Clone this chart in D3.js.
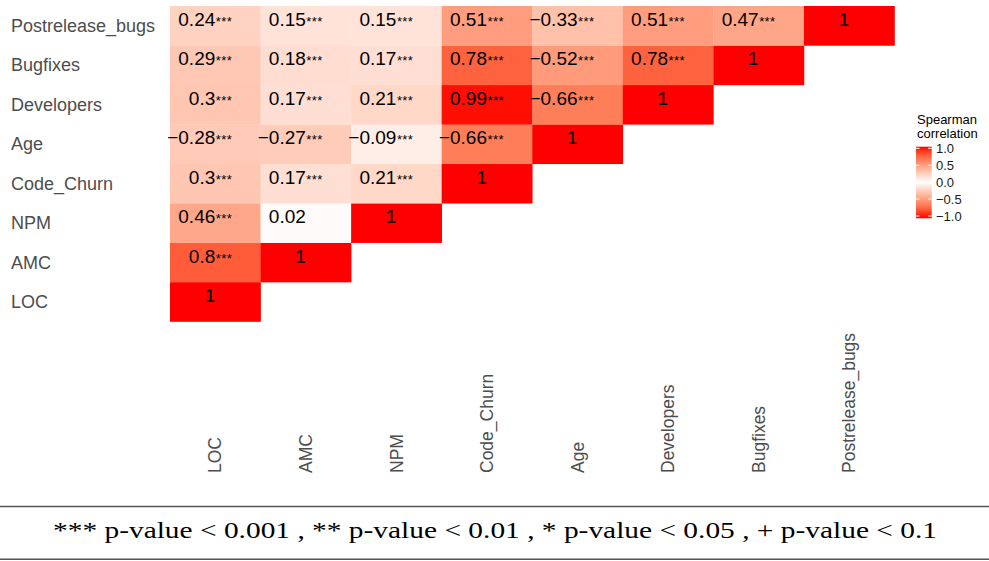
<!DOCTYPE html>
<html>
<head>
<meta charset="utf-8">
<script src="https://cdn.jsdelivr.net/npm/d3@7"></script>
<style>
  html, body { margin: 0; padding: 0; background: #fff; }
  svg { display: block; }
</style>
</head>
<body>
<svg id="chart" width="989" height="561"></svg>
<script>
// Metric names, left-to-right on the x axis (and bottom-to-top on the y axis)
const metrics = ["LOC", "AMC", "NPM", "Code_Churn", "Age", "Developers", "Bugfixes", "Postrelease_bugs"];

// Spearman coefficients, one row per metric (lower triangle incl. diagonal)
const corrLOC         = [1];
const corrAMC         = [0.8, 1];
const corrNPM         = [0.46, 0.02, 1];
const corrCodeChurn   = [0.3, 0.17, 0.21, 1];
const corrAge         = [-0.28, -0.27, -0.09, -0.66, 1];
const corrDevelopers  = [0.3, 0.17, 0.21, 0.99, -0.66, 1];
const corrBugfixes    = [0.29, 0.18, 0.17, 0.78, -0.52, 0.78, 1];
const corrPostrelease = [0.24, 0.15, 0.15, 0.51, -0.33, 0.51, 0.47, 1];

// Significance markers for each coefficient
const sigLOC         = [""];
const sigAMC         = ["***", ""];
const sigNPM         = ["***", "", ""];
const sigCodeChurn   = ["***", "***", "***", ""];
const sigAge         = ["***", "***", "***", "***", ""];
const sigDevelopers  = ["***", "***", "***", "***", "***", ""];
const sigBugfixes    = ["***", "***", "***", "***", "***", "***", ""];
const sigPostrelease = ["***", "***", "***", "***", "***", "***", "***", ""];

// Colour-bar breaks and their labels
const legendBreaks = [1, 0.5, 0, -0.5, -1];
const legendLabels = ["1.0", "0.5", "0.0", "\u22120.5", "\u22121.0"];
const legendTitle = ["Spearman", "correlation"];

const footnote = "*** p-value < 0.001 , ** p-value < 0.01 , * p-value < 0.05 , + p-value < 0.1";

const rowValues = [corrLOC, corrAMC, corrNPM, corrCodeChurn, corrAge, corrDevelopers, corrBugfixes, corrPostrelease];
const rowSig    = [sigLOC, sigAMC, sigNPM, sigCodeChurn, sigAge, sigDevelopers, sigBugfixes, sigPostrelease];

const cells = [];
rowValues.forEach((vals, i) => {
  vals.forEach((v, j) => {
    cells.push({ row: metrics[i], col: metrics[j], value: v, sig: rowSig[i][j] });
  });
});

const svg = d3.select("#chart");
const sans = "Liberation Sans, Arial, Helvetica, sans-serif";

const x = d3.scaleBand().domain(metrics).range([170, 894.5]).padding(0);
const y = d3.scaleBand().domain(metrics.slice().reverse()).range([6, 321.5]).padding(0);

const fill = d3.scaleLinear()
  .domain([-1, 0, 1])
  .range(["#ff0000", "#ffffff", "#ff0000"])
  .interpolate(d3.interpolateLab);

const fmt = v => (v < 0 ? "\u2212" : "") + String(Math.abs(v));

// Tiles
svg.append("g").selectAll("rect")
  .data(cells)
  .join("rect")
  .attr("x", d => x(d.col))
  .attr("y", d => y(d.row))
  .attr("width", x.bandwidth() + 0.3)
  .attr("height", y.bandwidth() + 0.3)
  .attr("fill", d => fill(d.value));

// Coefficient labels: value ends at the tile centre, stars follow it
const lbl = svg.append("g").selectAll("g")
  .data(cells)
  .join("g")
  .attr("transform", d => `translate(${x(d.col) + x.bandwidth() / 2},${y(d.row) + y.bandwidth() / 2 + 0.3})`);

lbl.append("text")
  .attr("text-anchor", "end")
  .attr("font-family", sans)
  .attr("font-size", 19)
  .attr("fill", "#000")
  .text(d => fmt(d.value));

lbl.filter(d => d.sig)
  .append("text")
  .attr("x", 0.5)
  .attr("text-anchor", "start")
  .attr("font-family", sans)
  .attr("font-size", 13)
  .attr("letter-spacing", 0.4)
  .attr("fill", "#000")
  .text(d => d.sig);

// Y axis
const yAxis = svg.append("g")
  .attr("transform", "translate(170,0)")
  .call(d3.axisLeft(y).tickSize(0));
yAxis.select(".domain").remove();
yAxis.selectAll("text")
  .attr("x", 11 - 170)
  .attr("dy", "0.35em")
  .attr("text-anchor", "start")
  .attr("font-family", sans)
  .attr("font-size", 18)
  .attr("fill", "#4d4d4d");

// X axis with vertical labels, read bottom-to-top from a common baseline
const xAxis = svg.append("g")
  .attr("transform", "translate(0,321.5)")
  .call(d3.axisBottom(x).tickSize(0));
xAxis.select(".domain").remove();
xAxis.selectAll("text")
  .attr("x", 0)
  .attr("y", 0)
  .attr("dy", "0.35em")
  .attr("transform", `translate(0,${473 - 321.5}) rotate(-90)`)
  .attr("text-anchor", "start")
  .attr("font-family", sans)
  .attr("font-size", 17.5)
  .attr("fill", "#4d4d4d");

// Legend
const legY = d3.scaleLinear().domain([-1, 1]).range([216, 148.3]);
const defs = svg.append("defs");
const grad = defs.append("linearGradient")
  .attr("id", "corrGrad")
  .attr("x1", 0).attr("x2", 0).attr("y1", 0).attr("y2", 1);
const barTop = 146.7, barBottom = 218.3;
d3.range(0, 1.0001, 0.05).forEach(t => {
  const py = barTop + t * (barBottom - barTop);
  const v = Math.max(-1, Math.min(1, legY.invert(py)));
  grad.append("stop").attr("offset", t).attr("stop-color", fill(v));
});

const leg = svg.append("g");
leg.selectAll("text.title")
  .data(legendTitle)
  .join("text")
  .attr("class", "title")
  .attr("x", 917)
  .attr("y", (d, i) => 124 + i * 13.5)
  .attr("font-family", sans)
  .attr("font-size", 13)
  .attr("fill", "#000")
  .text(d => d);

leg.append("rect")
  .attr("x", 916).attr("y", barTop)
  .attr("width", 15.7).attr("height", barBottom - barTop)
  .attr("fill", "url(#corrGrad)");

leg.selectAll("line.tl")
  .data(legendBreaks)
  .join("line")
  .attr("class", "tl")
  .attr("x1", 916).attr("x2", 919.5)
  .attr("y1", d => legY(d)).attr("y2", d => legY(d))
  .attr("stroke", "#fff").attr("stroke-width", 1);
leg.selectAll("line.tr")
  .data(legendBreaks)
  .join("line")
  .attr("class", "tr")
  .attr("x1", 928.2).attr("x2", 931.7)
  .attr("y1", d => legY(d)).attr("y2", d => legY(d))
  .attr("stroke", "#fff").attr("stroke-width", 1);

leg.selectAll("text.lab")
  .data(legendBreaks)
  .join("text")
  .attr("class", "lab")
  .attr("x", 936)
  .attr("y", d => legY(d))
  .attr("dy", "0.36em")
  .attr("font-family", sans)
  .attr("font-size", 13)
  .attr("fill", "#1a1a1a")
  .text((d, i) => legendLabels[i]);

// Footnote box
svg.append("line")
  .attr("x1", 0).attr("x2", 989).attr("y1", 506.5).attr("y2", 506.5)
  .attr("stroke", "#555").attr("stroke-width", 1.6);
svg.append("line")
  .attr("x1", 0).attr("x2", 989).attr("y1", 559.2).attr("y2", 559.2)
  .attr("stroke", "#555").attr("stroke-width", 1.6);
svg.append("text")
  .attr("x", 495)
  .attr("y", 538)
  .attr("text-anchor", "middle")
  .attr("font-family", "Liberation Serif, 'Times New Roman', serif")
  .attr("font-size", 23)
  .attr("fill", "#000")
  .attr("textLength", 884)
  .attr("lengthAdjust", "spacingAndGlyphs")
  .text(footnote);
</script>
</body>
</html>
